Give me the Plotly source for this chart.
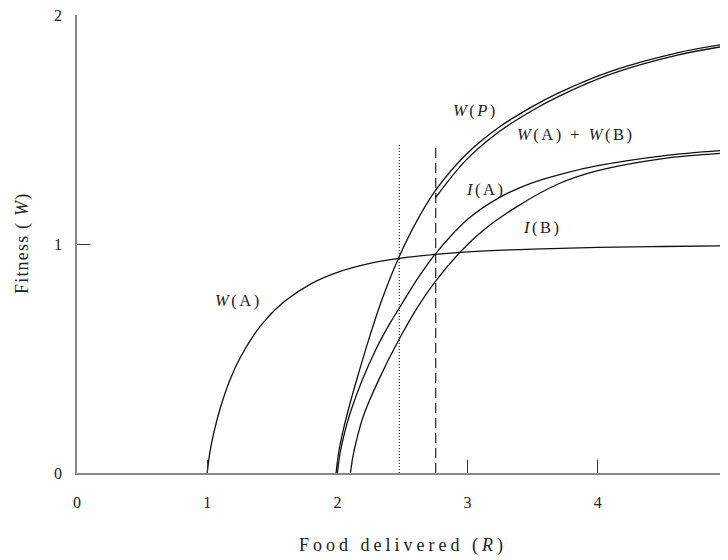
import plotly.graph_objects as go

# ---- data ----
R_WA = [1.00, 1.02, 1.05, 1.10, 1.17, 1.25, 1.35, 1.45, 1.60, 1.80, 2.00, 2.25, 2.475, 2.75, 3.00, 3.50, 4.00, 4.50, 5.00]
W_WA = [0.00, 0.088, 0.174, 0.283, 0.40, 0.50, 0.596, 0.67, 0.752, 0.827, 0.876, 0.915, 0.937, 0.955, 0.966, 0.978, 0.985, 0.989, 0.992]

R_WP = [1.99, 2.01, 2.05, 2.10, 2.16, 2.25, 2.35, 2.475, 2.60, 2.756, 2.986, 3.241, 3.497, 3.70, 4.11, 4.62, 5.00]
W_WP = [0.00, 0.09, 0.20, 0.31, 0.43, 0.60, 0.77, 0.945, 1.09, 1.236, 1.39, 1.51, 1.60, 1.66, 1.756, 1.836, 1.875]

R_WAB = [2.755, 2.986, 3.241, 3.497, 3.70, 4.11, 4.62, 5.00]
W_WAB = [1.203, 1.365, 1.490, 1.583, 1.645, 1.744, 1.826, 1.866]

R_IA = [2.00, 2.02, 2.05, 2.10, 2.19, 2.30, 2.40, 2.475, 2.60, 2.75, 3.00, 3.25, 3.50, 3.75, 4.00, 4.50, 5.00]
W_IA = [0.00, 0.084, 0.165, 0.265, 0.405, 0.545, 0.65, 0.72, 0.835, 0.955, 1.108, 1.205, 1.268, 1.31, 1.342, 1.385, 1.41]

R_IB = [2.10, 2.12, 2.15, 2.20, 2.32, 2.475, 2.62, 2.75, 2.935, 3.11, 3.37, 3.70, 4.00, 4.50, 5.00]
W_IB = [0.00, 0.075, 0.15, 0.25, 0.41, 0.585, 0.728, 0.835, 0.96, 1.055, 1.16, 1.263, 1.32, 1.373, 1.398]

R_dotted = [2.475, 2.475]
W_dotted = [0.0, 1.44]
R_dashed = [2.755, 2.755]
W_dashed = [0.0, 1.44]

x_ticks = [0, 1, 2, 3, 4, 5]
y_ticks = [0, 1, 2]

# labels: (text, R, W)
curve_labels = [
    ("<i>W</i>(<i>P</i>)", 3.057, 1.585),
    ("<i>W</i>(A) + <i>W</i>(B)", 3.825, 1.48),
    ("<i>I</i>(A)", 3.134, 1.236),
    ("<i>I</i>(B)", 3.579, 1.074),
    ("<i>W</i>(A)", 1.244, 0.755),
]

FONT = "Liberation Serif, Times New Roman, serif"
line_style = dict(color="#111", width=1.3)

fig = go.Figure()
for R, W in [(R_WA, W_WA), (R_WP, W_WP), (R_WAB, W_WAB), (R_IA, W_IA), (R_IB, W_IB)]:
    fig.add_trace(go.Scatter(x=R, y=W, mode="lines", line=dict(shape="spline", smoothing=1.0, **line_style),
                             showlegend=False, hoverinfo="skip"))

fig.add_trace(go.Scatter(x=R_dotted, y=W_dotted, mode="lines",
                         line=dict(color="#222", width=1.2, dash="1px,2px"), showlegend=False, hoverinfo="skip"))
fig.add_trace(go.Scatter(x=R_dashed, y=W_dashed, mode="lines",
                         line=dict(color="#222", width=1.2, dash="10px,5px"), showlegend=False, hoverinfo="skip"))


def spaced(t, px):
    return '<span style="letter-spacing:%.1fpx">%s</span>' % (px, t)


annotations = []
for text, r, w in curve_labels:
    annotations.append(dict(x=r, y=w, xref="x", yref="y", text=spaced(text, 2.5), showarrow=False,
                            xanchor="center", yanchor="middle",
                            font=dict(family=FONT, size=16.5, color="#222")))

annotations.append(dict(x=0.5, y=0, xref="paper", yref="paper", yshift=-72, xanchor="center", yanchor="middle",
                        text=spaced("Food delivered (<i>R</i>)", 4.0),
                        showarrow=False, font=dict(family=FONT, size=18, color="#222")))
annotations.append(dict(x=0, y=0.5, xref="paper", yref="paper", xshift=-55, xanchor="center", yanchor="middle",
                        text=spaced("Fitness ( <i>W</i>)", 1.2),
                        textangle=-90, showarrow=False, font=dict(family=FONT, size=18, color="#222")))

axis_common = dict(showgrid=False, zeroline=False, showline=True, linecolor="#888", linewidth=1.5,
                   ticks="inside", ticklen=13, tickwidth=1.3, tickcolor="#333", ticklabeloverflow="allow",
                   automargin=False, tickfont=dict(family=FONT, size=16, color="#222"))

# page body adds an 8px margin; the plot area ends at the window's right edge
fig.update_layout(
    width=728, height=552,
    margin=dict(l=69, r=8, t=7, b=87, autoexpand=False),
    paper_bgcolor="white", plot_bgcolor="white",
    xaxis=dict(range=[0, 5], tickvals=x_ticks, ticklabelstandoff=14, **axis_common),
    yaxis=dict(range=[0, 2], tickvals=y_ticks, ticklabelstandoff=10, **axis_common),
    annotations=annotations,
)

fig.write_html("out.html")
